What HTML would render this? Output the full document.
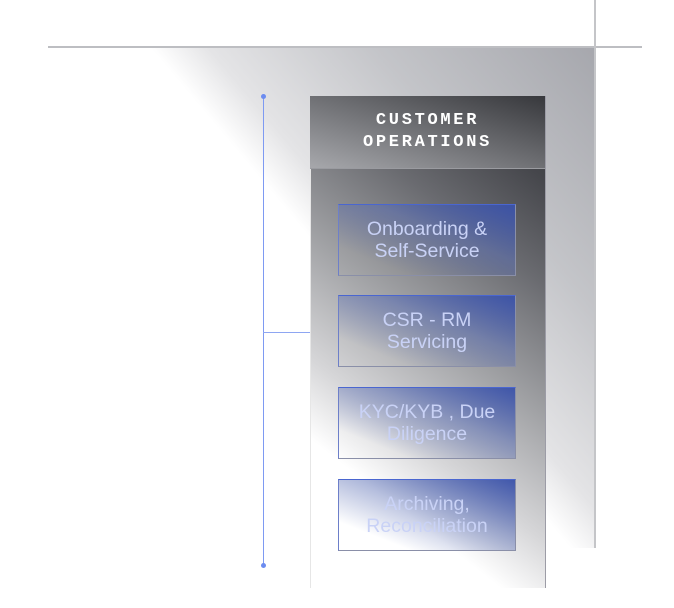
<!DOCTYPE html>
<html><head><meta charset="utf-8"><style>
html,body{margin:0;padding:0;background:#fff;}
body{width:674px;height:608px;position:relative;overflow:hidden;font-family:"Liberation Sans",sans-serif;}
.abs{position:absolute;}
#outer{left:48px;top:47px;width:547px;height:501px;background:linear-gradient(50deg,#fff 0%,#fff 54%,#e4e4e6 60%,#c4c5c9 77%,#a6a7ad 100%);}
#topline{left:48px;top:46px;width:594px;height:2px;background:#bdbec2;}
#vline{left:594px;top:0;width:2px;height:548px;background:#c4c5c8;}
#inner{left:310px;top:96px;width:234px;height:491px;border:1px solid #9c9ca6;border-bottom:none;border-left-color:#e6e6e6;background:linear-gradient(38deg,#fff 0%,#fff 22%,#d6d6d8 34%,#a2a3a6 52%,#6a6b70 72%,#45464b 88%,#38393e 100%);}
#head{left:310px;top:96px;width:235px;height:72px;border-bottom:1px solid #9a9ba0;background:linear-gradient(to top right,#a7a8ac 0%,#6f7074 50%,#37383c 100%);}
#title{left:310px;top:110px;width:235px;text-align:center;color:#fff;font-family:"Liberation Mono",monospace;font-size:17px;line-height:22px;letter-spacing:2.7px;font-weight:bold;}
.card{position:absolute;left:338px;width:176px;height:70px;border:1px solid #8a8fa8;border-top-color:#4a66d0;border-left-color:#6d7fc9;background:linear-gradient(to top right,rgba(255,255,255,0) 20%,rgba(90,110,180,0.55) 60%,rgba(58,82,170,0.95) 100%);color:#c9d2f6;font-size:19.5px;line-height:22px;text-align:center;display:flex;align-items:center;justify-content:center;}
#lline{left:263px;top:96px;width:1px;height:470px;background:#7e9af2;}
.dot{position:absolute;left:261px;width:5px;height:5px;border-radius:50%;background:#6c8cf0;}
#hconn{left:263px;top:332px;width:47px;height:1px;background:#8ea6f2;}
</style></head><body>
<div id="outer" class="abs"></div>
<div id="topline" class="abs"></div>
<div id="vline" class="abs"></div>
<div id="lline" class="abs"></div>
<div class="dot" style="top:94px"></div>
<div class="dot" style="top:563px"></div>
<div id="hconn" class="abs"></div>
<div id="inner" class="abs"></div>
<div id="head" class="abs"></div>
<div id="title" class="abs">CUSTOMER<br>OPERATIONS</div>
<div class="card" style="top:204px">Onboarding &amp;<br>Self-Service</div>
<div class="card" style="top:295px">CSR - RM<br>Servicing</div>
<div class="card" style="top:387px">KYC/KYB , Due<br>Diligence</div>
<div class="card" style="top:479px">Archiving,<br>Reconciliation</div>
</body></html>
